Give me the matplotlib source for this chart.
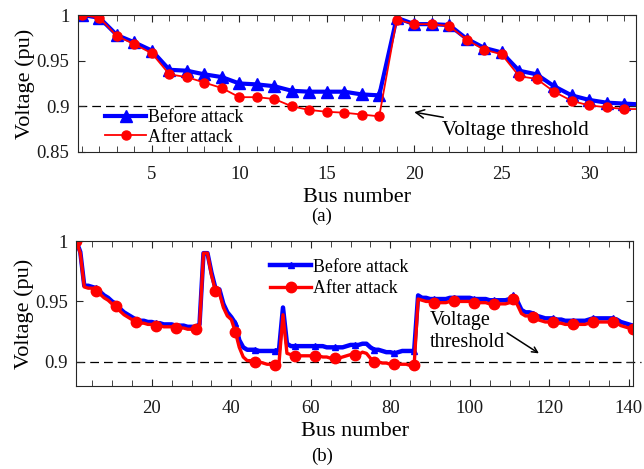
import numpy as np
import matplotlib
matplotlib.use("Agg")
from matplotlib import pyplot as plt
from matplotlib.ticker import MultipleLocator

plt.rcParams['font.family'] = ['Liberation Serif', 'DejaVu Serif']
plt.rcParams['mathtext.fontset'] = 'stix'

# (a) 33-bus system
bus33 = list(range(1, 34))
before33 = [1.000, 0.997, 0.978, 0.970, 0.961, 0.940, 0.939, 0.935, 0.932, 0.925,
            0.924, 0.922, 0.917, 0.916, 0.916, 0.916, 0.913, 0.912, 0.997, 0.990,
            0.990, 0.989, 0.974, 0.964, 0.959, 0.939, 0.935, 0.922, 0.912, 0.907,
            0.904, 0.903, 0.902]
after33 = [1.000, 0.997, 0.977, 0.968, 0.958, 0.935, 0.932, 0.926, 0.920, 0.910,
           0.910, 0.908, 0.900, 0.896, 0.894, 0.893, 0.891, 0.889, 0.995, 0.990,
           0.990, 0.988, 0.973, 0.962, 0.957, 0.933, 0.930, 0.916, 0.906, 0.901,
           0.899, 0.897, 0.897]

# (b) 141-bus system
bus141 = list(range(1, 142))
after141 = [1.000, 0.990, 0.962, 0.961, 0.961, 0.959, 0.956, 0.953, 0.951, 0.948,
            0.946, 0.942, 0.939, 0.937, 0.935, 0.933, 0.932, 0.932, 0.931, 0.931,
            0.930, 0.930, 0.929, 0.929, 0.929, 0.928, 0.928, 0.928, 0.927, 0.927,
            0.927, 0.929, 0.990, 0.990, 0.972, 0.959, 0.957, 0.945, 0.938, 0.935,
            0.925, 0.912, 0.904, 0.901, 0.901, 0.900, 0.900, 0.899, 0.898, 0.898,
            0.897, 0.899, 0.939, 0.907, 0.906, 0.905, 0.905, 0.905, 0.905, 0.905,
            0.905, 0.905, 0.904, 0.904, 0.903, 0.903, 0.903, 0.904, 0.905, 0.906,
            0.906, 0.906, 0.908, 0.907, 0.903, 0.900, 0.900, 0.899, 0.899, 0.898,
            0.898, 0.898, 0.898, 0.898, 0.897, 0.897, 0.952, 0.951, 0.950, 0.950,
            0.949, 0.949, 0.949, 0.949, 0.950, 0.950, 0.950, 0.950, 0.950, 0.950,
            0.949, 0.949, 0.949, 0.949, 0.948, 0.948, 0.948, 0.948, 0.948, 0.949,
            0.952, 0.947, 0.940, 0.938, 0.938, 0.937, 0.935, 0.934, 0.933, 0.933,
            0.933, 0.932, 0.932, 0.931, 0.931, 0.931, 0.931, 0.931, 0.931, 0.932,
            0.933, 0.933, 0.933, 0.933, 0.933, 0.933, 0.932, 0.930, 0.929, 0.928,
            0.927]
before141 = [1.000, 0.991, 0.963, 0.963, 0.962, 0.961, 0.958, 0.955, 0.953, 0.950,
             0.948, 0.944, 0.941, 0.939, 0.937, 0.935, 0.934, 0.934, 0.933, 0.933,
             0.932, 0.932, 0.931, 0.931, 0.931, 0.930, 0.930, 0.930, 0.929, 0.929,
             0.929, 0.931, 0.990, 0.990, 0.974, 0.961, 0.960, 0.948, 0.941, 0.937,
             0.932, 0.918, 0.912, 0.910, 0.910, 0.910, 0.909, 0.909, 0.909, 0.909,
             0.909, 0.910, 0.945, 0.915, 0.913, 0.913, 0.913, 0.913, 0.913, 0.913,
             0.913, 0.913, 0.913, 0.912, 0.912, 0.912, 0.912, 0.912, 0.913, 0.914,
             0.914, 0.914, 0.915, 0.915, 0.912, 0.910, 0.910, 0.909, 0.908, 0.908,
             0.907, 0.908, 0.909, 0.909, 0.909, 0.909, 0.955, 0.953, 0.953, 0.952,
             0.952, 0.952, 0.952, 0.952, 0.953, 0.953, 0.953, 0.953, 0.953, 0.953,
             0.952, 0.952, 0.952, 0.952, 0.951, 0.951, 0.951, 0.951, 0.951, 0.952,
             0.955, 0.950, 0.943, 0.941, 0.941, 0.940, 0.938, 0.937, 0.936, 0.936,
             0.936, 0.935, 0.935, 0.934, 0.934, 0.934, 0.934, 0.934, 0.934, 0.935,
             0.936, 0.936, 0.936, 0.936, 0.936, 0.936, 0.935, 0.933, 0.932, 0.931,
             0.930]

threshold = 0.9
tick_fs = 13.5
lab_fs = 16
leg_fs = 12.8
ann_fs = 15
spine_col = '#262626'

def style_axes(ax):
    ax.tick_params(direction='in', which='both', top=True, right=True,
                   labelsize=tick_fs, colors=spine_col, labelcolor='#1a1a1a')
    ax.tick_params(which='major', length=5)
    ax.tick_params(which='minor', length=4)
    ax.tick_params(axis='y', pad=6)
    ax.tick_params(axis='x', pad=10)
    for s in ax.spines.values():
        s.set_color(spine_col)
        s.set_linewidth(0.8)

fig = plt.figure(figsize=(6.44, 4.69), dpi=100)

# ---- (a)
ax1 = fig.add_axes([0.121, 0.676, 0.867, 0.292])
ax1.axhline(threshold, color='black', lw=0.9, ls=(0, (7, 4)), zorder=1)
ax1.plot(bus33, before33, color='blue', lw=3, marker='^', ms=8, label='Before attack')
ax1.plot(bus33, after33, color='red', lw=1.3, marker='o', ms=6.5, label='After attack')
ax1.set_xlim(0.77, 32.7)
ax1.set_ylim(0.85, 1.0)
ax1.xaxis.set_major_locator(MultipleLocator(5))
ax1.xaxis.set_minor_locator(MultipleLocator(1))
ax1.set_yticks([0.85, 0.9, 0.95, 1])
ax1.set_yticklabels(['0.85', '0.9', '0.95', '1'])
style_axes(ax1)
ax1.set_ylabel('Voltage (pu)', fontsize=lab_fs, labelpad=1)
ax1.set_xlabel('Bus number', fontsize=lab_fs, labelpad=4)
ax1.legend(loc='lower left', bbox_to_anchor=(0.02, -0.07), frameon=False,
           fontsize=leg_fs, handlelength=2.3, handletextpad=0.1, labelspacing=0.15)
ax1.annotate('Voltage threshold', xy=(20.0, 0.8936), xytext=(21.6, 0.874),
             fontsize=ann_fs, va='center', ha='left',
             arrowprops=dict(arrowstyle='->', color='black', lw=1.1,
                             shrinkA=2, shrinkB=0))
fig.text(0.5, 1 - 216 / 469, '(a)', ha='center', va='center', fontsize=tick_fs)

# ---- (b)
ax2 = fig.add_axes([0.1185, 0.177, 0.864, 0.309])
ax2.plot([1, 143], [threshold, threshold], color='black', lw=0.9,
         ls=(0, (7, 4)), zorder=1, clip_on=False)
ax2.plot(bus141, before141, color='blue', lw=3.2, marker='^', ms=5,
         markevery=5, label='Before attack')
ax2.plot(bus141, after141, color='red', lw=2.4, marker='o', ms=7.5,
         markevery=5, label='After attack')
ax2.set_xlim(1, 141)
ax2.set_ylim(0.88, 1.0)
ax2.set_xticks([20, 40, 60, 80, 100, 120, 140])
ax2.xaxis.set_minor_locator(MultipleLocator(5))
ax2.set_yticks([0.9, 0.95, 1])
ax2.set_yticklabels(['0.9', '0.95', '1'])
style_axes(ax2)
ax2.set_ylabel('Voltage (pu)', fontsize=lab_fs, labelpad=1)
ax2.set_xlabel('Bus number', fontsize=lab_fs, labelpad=4)
ax2.legend(loc='upper left', bbox_to_anchor=(0.32, 0.99), frameon=False,
           fontsize=leg_fs, handlelength=2.3, handletextpad=0.1, labelspacing=0.25)
ax2.annotate('', xy=(117.4, 0.907), xytext=(109.4, 0.924),
             arrowprops=dict(arrowstyle='->', color='black', lw=1.1,
                             shrinkA=0, shrinkB=0))
ax2.text(90.0, 0.925, 'Voltage\nthreshold', fontsize=ann_fs - 0.5, va='center',
         ha='left', linespacing=1.2)
fig.text(0.5, 1 - 456 / 469, '(b)', ha='center', va='center', fontsize=tick_fs)

fig.savefig('out.png', dpi=100)
